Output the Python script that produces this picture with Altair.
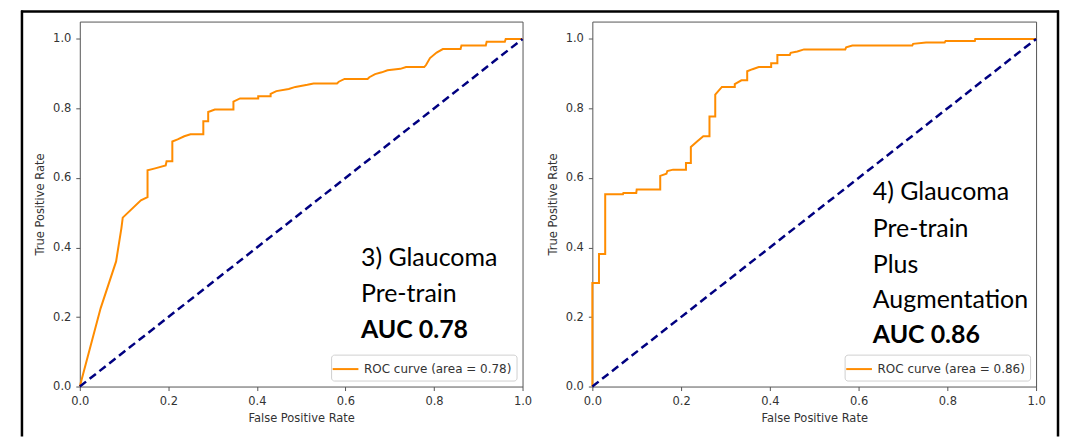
import altair as alt
import pandas as pd

# ---------------- data ----------------
left_fpr = [0.0, 0.047, 0.082, 0.094, 0.097, 0.138, 0.153, 0.153, 0.168, 0.194,
            0.196, 0.209, 0.209, 0.221, 0.236, 0.25, 0.279, 0.279, 0.29, 0.29,
            0.305, 0.347, 0.347, 0.362, 0.403, 0.403, 0.431, 0.431, 0.444, 0.472,
            0.487, 0.514, 0.528, 0.581, 0.585, 0.598, 0.65, 0.654, 0.667, 0.682,
            0.695, 0.724, 0.737, 0.778, 0.782, 0.791, 0.806, 0.82, 0.86, 0.862,
            0.917, 0.919, 0.96, 0.962, 1.0]
left_tpr = [0.0, 0.225, 0.36, 0.456, 0.486, 0.536, 0.545, 0.622, 0.627, 0.636,
            0.648, 0.648, 0.705, 0.711, 0.72, 0.726, 0.726, 0.763, 0.763, 0.79,
            0.797, 0.797, 0.82, 0.829, 0.829, 0.835, 0.835, 0.842, 0.85, 0.856,
            0.862, 0.868, 0.872, 0.872, 0.877, 0.885, 0.885, 0.89, 0.899, 0.904,
            0.91, 0.914, 0.919, 0.919, 0.925, 0.945, 0.961, 0.971, 0.971, 0.981,
            0.981, 0.992, 0.992, 1.0, 1.0]
left_label = "ROC curve (area = 0.78)"

right_fpr = [0.0, 0.0, 0.015, 0.015, 0.029, 0.029, 0.069, 0.07, 0.099, 0.1,
             0.153, 0.153, 0.167, 0.169, 0.182, 0.211, 0.211, 0.222, 0.222, 0.236,
             0.25, 0.264, 0.264, 0.277, 0.277, 0.292, 0.321, 0.321, 0.336, 0.349,
             0.349, 0.361, 0.375, 0.403, 0.403, 0.417, 0.417, 0.445, 0.447, 0.462,
             0.477, 0.57, 0.572, 0.586, 0.721, 0.723, 0.752, 0.794, 0.796, 0.862,
             0.863, 1.0]
right_tpr = [0.0, 0.298, 0.298, 0.381, 0.381, 0.553, 0.553, 0.557, 0.557, 0.567,
             0.567, 0.606, 0.612, 0.62, 0.624, 0.624, 0.643, 0.643, 0.689, 0.705,
             0.72, 0.72, 0.777, 0.777, 0.84, 0.862, 0.862, 0.87, 0.881, 0.881,
             0.907, 0.913, 0.919, 0.919, 0.93, 0.93, 0.954, 0.954, 0.96, 0.964,
             0.97, 0.97, 0.976, 0.981, 0.981, 0.986, 0.99, 0.99, 0.994, 0.994,
             1.0, 1.0]
right_label = "ROC curve (area = 0.86)"

diag_x = [0.0, 1.0]
diag_y = [0.0, 1.0]
tick_values = [0.0, 0.2, 0.4, 0.6, 0.8, 1.0]

left_note = ["3) Glaucoma", "Pre-train"]
left_note_bold = ["AUC 0.78"]
right_note = ["4) Glaucoma", "Pre-train", "Plus", "Augmentation"]
right_note_bold = ["AUC 0.86"]

# annotation anchors (data units)
left_note_x = 0.635
left_note_y = [0.347, 0.244]
left_bold_y = [0.141]
right_note_x = 0.632
right_note_y = [0.536, 0.430, 0.327, 0.225]
right_bold_y = [0.124]

assert len(left_fpr) == len(left_tpr)
assert len(right_fpr) == len(right_tpr)

PH = 366
ORANGE = "#ff8c00"
NAVY = "#000080"


def panel(fpr, tpr, label, note, note_x, note_y, bold, bold_y, width, frame=False):
    roc = pd.DataFrame({"fpr": fpr, "tpr": tpr, "idx": list(range(len(fpr))), "series": label})
    xenc = alt.X("fpr:Q", scale=alt.Scale(domain=[0, 1], nice=False, zero=False),
                 axis=alt.Axis(title="False Positive Rate", values=tick_values, format=".1f"))
    yenc = alt.Y("tpr:Q", scale=alt.Scale(domain=[0, 1.05], nice=False, zero=False),
                 axis=alt.Axis(title="True Positive Rate", values=tick_values, format=".1f"))
    curve = alt.Chart(roc).mark_line(strokeWidth=2).encode(
        x=xenc, y=yenc, order="idx:Q",
        color=alt.Color("series:N", scale=alt.Scale(range=[ORANGE]),
                        legend=alt.Legend(title=None, orient="bottom-right")),
    )
    diag = alt.Chart(pd.DataFrame({"fpr": diag_x, "tpr": diag_y})).mark_line(
        color=NAVY, strokeWidth=2.5, strokeDash=[8, 4.5]
    ).encode(x="fpr:Q", y="tpr:Q")
    nd = pd.DataFrame({"fpr": [note_x] * len(note), "tpr": note_y, "t": note})
    bd = pd.DataFrame({"fpr": [note_x] * len(bold), "tpr": bold_y, "t": bold})
    txt = alt.Chart(nd).mark_text(align="left", baseline="alphabetic", font="Lato",
                                  fontSize=25, color="black").encode(x="fpr:Q", y="tpr:Q", text="t:N")
    btxt = alt.Chart(bd).mark_text(align="left", baseline="alphabetic", font="Lato",
                                   fontSize=25, fontWeight="bold", color="black").encode(
        x="fpr:Q", y="tpr:Q", text="t:N")
    layers = [curve, diag, txt, btxt]
    if frame:
        # black outer frame (left, top and right sides; bottom runs off the picture)
        fk = pd.DataFrame({"k": [0]})
        fl = alt.Chart(fk).mark_rule(color="black", strokeWidth=2.5).encode(
            x=alt.value(-58), y=alt.value(-11), y2=alt.value(PH + 50))
        ft = alt.Chart(fk).mark_rule(color="black", strokeWidth=2.5).encode(
            x=alt.value(-59), x2=alt.value(982), y=alt.value(-10))
        frr = alt.Chart(fk).mark_rule(color="black", strokeWidth=2.5).encode(
            x=alt.value(981), y=alt.value(-11), y2=alt.value(PH + 50))
        layers = [fl, ft, frr] + layers
    return alt.layer(*layers).properties(width=width, height=PH)


left = panel(left_fpr, left_tpr, left_label, left_note, left_note_x, left_note_y,
             left_note_bold, left_bold_y, 444, frame=True)
right = panel(right_fpr, right_tpr, right_label, right_note, right_note_x, right_note_y,
              right_note_bold, right_bold_y, 445)

chart = alt.hconcat(left, right, spacing=70, bounds="flush").resolve_scale(
    color="independent"
).properties(
    padding={"left": 11, "top": 0, "right": 0, "bottom": 0}
).configure_view(
    stroke="#555555", strokeWidth=1
).configure_axis(
    domain=False, grid=False, tickColor="#555555", tickSize=4, tickWidth=1,
    labelFont="DejaVu Sans", labelFontSize=11.5, labelColor="#333333", labelPadding=5,
    labelFlush=False,
    titleFont="DejaVu Sans", titleFontSize=11.5, titleFontWeight="normal", titleColor="#333333",
).configure_axisX(titlePadding=6).configure_axisY(titlePadding=7).configure_legend(
    fillColor="white", strokeColor="#d0d0d0", cornerRadius=3, padding=5, offset=6,
    labelFont="DejaVu Sans", labelFontSize=12, labelColor="#333333", labelOffset=9,
    symbolType="M-1.6,0H1.6", symbolSize=260, symbolStrokeWidth=2, labelLimit=400,
)

chart.save("out.html", embed_options={"renderer": "svg", "actions": False})
